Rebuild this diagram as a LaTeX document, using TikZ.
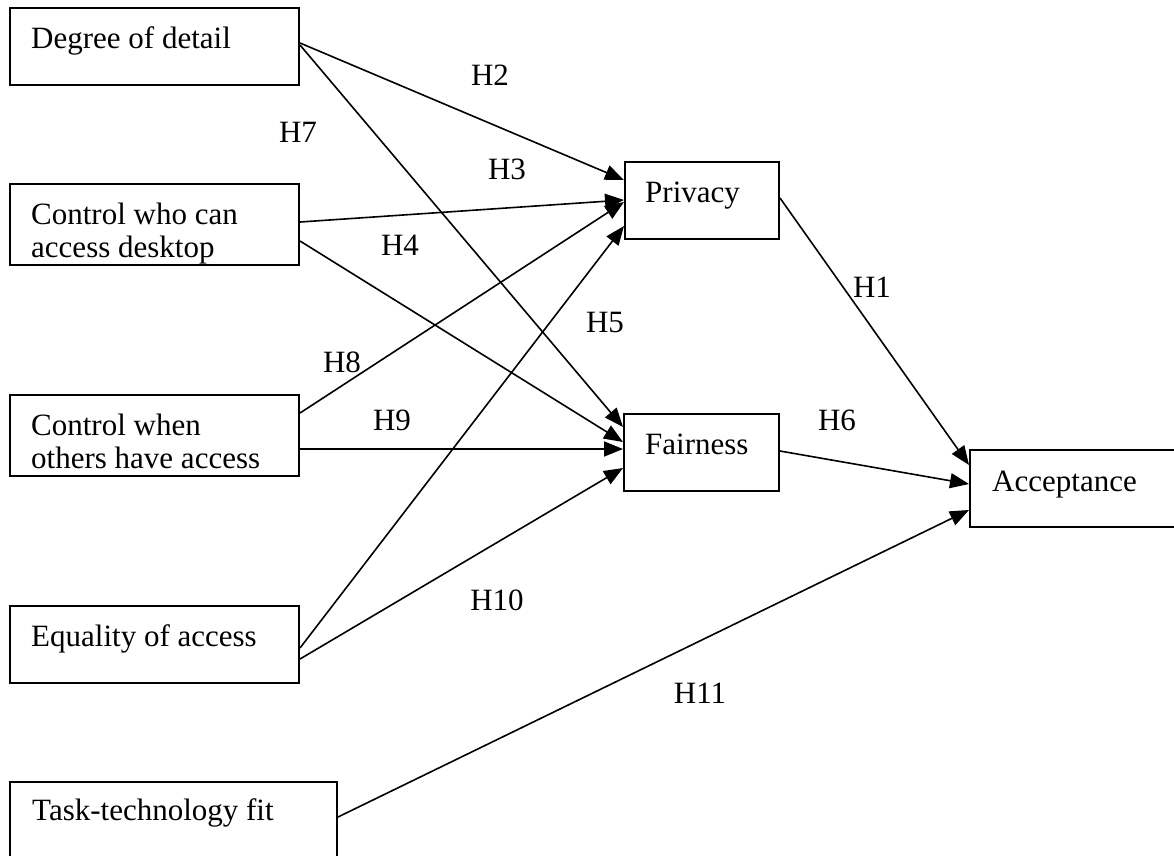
\documentclass[tikz,border=0pt]{standalone}
\usepackage{fontspec}
\setmainfont{Liberation Serif}
\usetikzlibrary{arrows.meta}
\begin{document}
\begin{tikzpicture}[x=1pt,y=-1pt,
  box/.style={draw, line width=2pt, anchor=north west, inner sep=0pt, minimum height=77pt},
  txt/.style={anchor=base west, inner sep=0pt, font=\fontsize{31}{33}\selectfont},
  hyp/.style={anchor=center, inner sep=0pt, font=\fontsize{31}{33}\selectfont},
  arr/.style={line width=1.6pt, -{Triangle[length=19pt,width=15pt]}}]
\clip (0,0) rectangle (1174,855);
% boxes
\node[box, minimum width=289pt] (deg) at (9,7) {};
\node[box, minimum width=289pt, minimum height=81pt] (cw) at (9,183) {};
\node[box, minimum width=289pt, minimum height=81pt] (cwh) at (9,394) {};
\node[box, minimum width=289pt] (eq) at (9,605) {};
\node[box, minimum width=327pt, minimum height=90pt] (task) at (9,781) {};
\node[box, minimum width=154pt] (priv) at (624,161) {};
\node[box, minimum width=155pt] (fair) at (623,413) {};
\node[box, minimum width=230pt] (acc) at (969,449) {};
% box texts
\node[txt] (tdeg) at ([shift={(22,41)}]deg.north west) {Degree of detail};
\node[txt] (tcw) at ([shift={(22,41)}]cw.north west) {\begin{tabular}[t]{@{}l@{}}Control who can\\access desktop\end{tabular}};
\node[txt] (tcwh) at ([shift={(22,41)}]cwh.north west) {\begin{tabular}[t]{@{}l@{}}Control when\\others have access\end{tabular}};
\node[txt] (teq) at ([shift={(22,41)}]eq.north west) {Equality of access};
\node[txt] (ttask) at ([shift={(23,39)}]task.north west) {Task-technology fit};
\node[txt] (tpriv) at ([shift={(21,41)}]priv.north west) {Privacy};
\node[txt] (tfair) at ([shift={(22,41)}]fair.north west) {Fairness};
\node[txt] (tacc) at ([shift={(23,42)}]acc.north west) {Acceptance};
% connectors
\draw[arr] ([shift={(0,36)}]deg.north east) -- ([shift={(0,19)}]priv.north west);
\draw[arr] ([shift={(0,38)}]deg.north east) -- ([shift={(0,14)}]fair.north west);
\draw[arr] ([shift={(0,39)}]cw.north east) -- ([shift={(0,39)}]priv.north west);
\draw[arr] ([shift={(0,58)}]cw.north east) -- ([shift={(0,29)}]fair.north west);
\draw[arr] ([shift={(0,19)}]cwh.north east) -- ([shift={(0,41)}]priv.north west);
\draw[arr] ([shift={(0,55)}]cwh.north east) -- ([shift={(0,36)}]fair.north west);
\draw[arr] ([shift={(0,43)}]eq.north east) -- ([shift={(0,65)}]priv.north west);
\draw[arr] ([shift={(0,54)}]eq.north east) -- ([shift={(0,55)}]fair.north west);
\draw[arr] ([shift={(0,37)}]priv.north east) -- ([shift={(0,16)}]acc.north west);
\draw[arr] ([shift={(0,38)}]fair.north east) -- ([shift={(0,35)}]acc.north west);
\draw[arr] ([shift={(0,36)}]task.north east) -- ([shift={(0,61)}]acc.north west);
% hypothesis labels
\node[hyp] (h2) at (490,75) {H2};
\node[hyp] (h7) at (298,132) {H7};
\node[hyp] (h3) at (507,169) {H3};
\node[hyp] (h4) at (400,245) {H4};
\node[hyp] (h1) at (872,287) {H1};
\node[hyp] (h5) at (605,322) {H5};
\node[hyp] (h8) at (342,362) {H8};
\node[hyp] (h9) at (392,420) {H9};
\node[hyp] (h6) at (837,420) {H6};
\node[hyp] (h10) at (497,600) {H10};
\node[hyp] (h11) at (700,693) {H11};
\end{tikzpicture}
\end{document}
